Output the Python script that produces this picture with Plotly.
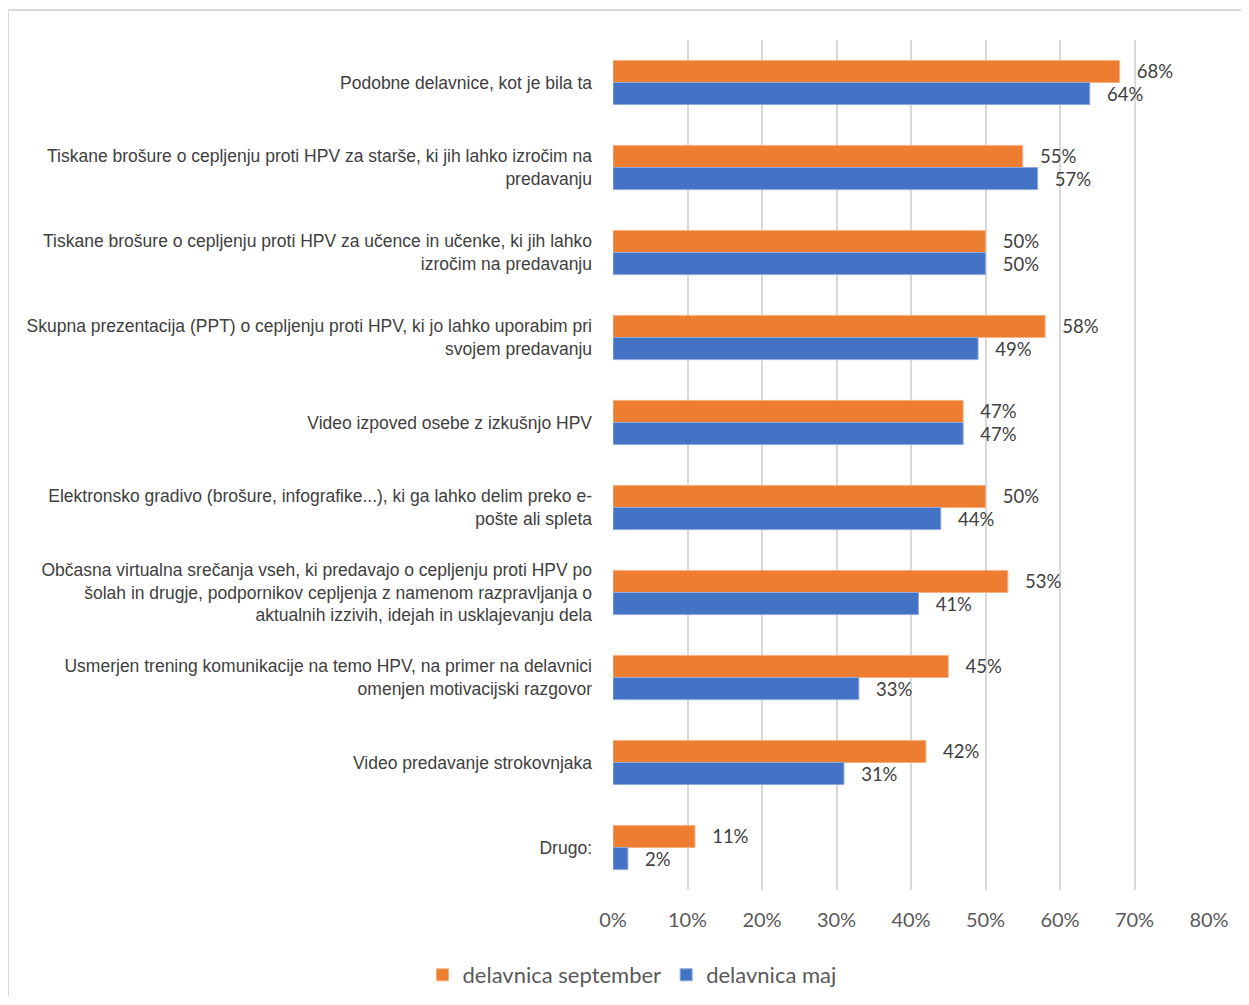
import plotly.graph_objects as go

categories = [
    "Podobne delavnice, kot je bila ta",
    "Tiskane brošure o cepljenju proti HPV za starše, ki jih lahko izročim na<br>predavanju",
    "Tiskane brošure o cepljenju proti HPV za učence in učenke, ki jih lahko<br>izročim na predavanju",
    "Skupna prezentacija (PPT) o cepljenju proti HPV, ki jo lahko uporabim pri<br>svojem predavanju",
    "Video izpoved osebe z izkušnjo HPV",
    "Elektronsko gradivo (brošure, infografike...), ki ga lahko delim preko e-<br>pošte ali spleta",
    "Občasna virtualna srečanja vseh, ki predavajo o cepljenju proti HPV po<br>šolah in drugje, podpornikov cepljenja z namenom razpravljanja o<br>aktualnih izzivih, idejah in usklajevanju dela",
    "Usmerjen trening komunikacije na temo HPV, na primer na delavnici<br>omenjen motivacijski razgovor",
    "Video predavanje strokovnjaka",
    "Drugo:",
]
september = [0.68, 0.55, 0.50, 0.58, 0.47, 0.50, 0.53, 0.45, 0.42, 0.11]
maj = [0.64, 0.57, 0.50, 0.49, 0.47, 0.44, 0.41, 0.33, 0.31, 0.02]
x_ticks = [0, 0.1, 0.2, 0.3, 0.4, 0.5, 0.6, 0.7, 0.8]

label_font = dict(family="Lato, Open Sans, sans-serif", size=18.5, color="#404040")

fig = go.Figure()
fig.add_trace(go.Bar(
    y=categories, x=september, name="delavnica september", orientation="h",
    marker=dict(color="#ED7D31", line=dict(color="#F4B183", width=1)),
    texttemplate="\u00a0\u00a0\u00a0%{x:.0%}", textposition="outside",
    constraintext="none", cliponaxis=False, textfont=label_font,
))
fig.add_trace(go.Bar(
    y=categories, x=maj, name="delavnica maj", orientation="h",
    marker=dict(color="#4472C4", line=dict(color="#8FAADC", width=1)),
    texttemplate="\u00a0\u00a0\u00a0%{x:.0%}", textposition="outside",
    constraintext="none", cliponaxis=False, textfont=label_font,
))

W, H = 1233, 989
fig.update_layout(
    width=W, height=H,
    margin=dict(l=605, r=32, t=32, b=107, autoexpand=False),
    barmode="group", bargap=0.48, bargroupgap=0,
    plot_bgcolor="white", paper_bgcolor="white",
    showlegend=True,
    legend=dict(orientation="h", xref="container", yref="container",
                x=(632 - 8) / W, xanchor="center", y=(997 - 975) / H, yanchor="middle",
                font=dict(family="Lato, Open Sans, sans-serif", size=22, color="#595959"),
                tracegroupgap=0),
    xaxis=dict(range=[0, 0.8], tickvals=x_ticks, tickformat=".0%", automargin=False,
               showgrid=True, gridcolor="#d9d9d9", gridwidth=2, zeroline=False,
               showline=False, ticks="", ticklabelstandoff=16,
               tickfont=dict(family="Lato, Open Sans, sans-serif", size=20, color="#595959")),
    yaxis=dict(autorange="reversed", showgrid=False, zeroline=False, showline=False,
               ticks="", ticklabelstandoff=20, automargin=False,
               tickfont=dict(family="Liberation Sans, Arial, sans-serif",
                             size=17.5, color="#404040")),
    shapes=[dict(type="rect", xref="paper", yref="paper",
                 x0=(8 - 613) / 596, x1=(1300 - 613) / 596,
                 y0=(890 - 1050) / 850, y1=(890 - 10) / 850,
                 line=dict(color="#d9d9d9", width=2), fillcolor="rgba(0,0,0,0)",
                 layer="below")],
)

fig.write_html("out.html")
